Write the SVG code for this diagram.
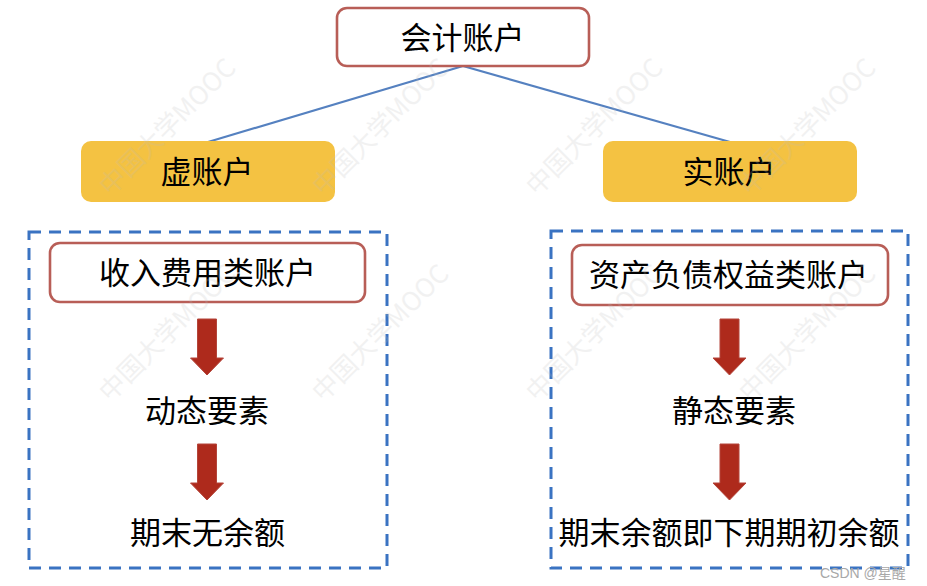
<svg xmlns="http://www.w3.org/2000/svg" width="927" height="586" viewBox="0 0 927 586">
<defs>
<style>
.t{font-family:"Microsoft YaHei","Noto Sans CJK SC","Noto Sans",sans-serif;font-size:31px;fill:#000;text-anchor:middle}
.rb{fill:#fff;stroke:#B85E57;stroke-width:2.6}
.yb{fill:#F4C242;stroke:none}
.db{fill:none;stroke:#3A73C2;stroke-width:3;stroke-dasharray:12 8}
.ln{stroke:#5581C0;stroke-width:2.2;fill:none}
.ar{fill:#AE2A1C;stroke:#B4453A;stroke-width:1}
.wm{font-family:"Noto Sans CJK SC","Noto Sans",sans-serif;font-size:26px;fill:#bdbdbd;opacity:0.2}
</style>
<path id="arrowShape" d="M-9.5,0 H9.5 V39 H16.5 L0,56 L-16.5,39 H-9.5 Z"/>
</defs>
<rect width="927" height="586" fill="#fff"/>
<g id="connectors">
<line class="ln" x1="463" y1="66" x2="208" y2="142"/>
<line class="ln" x1="463" y1="66" x2="730" y2="142"/>
</g>
<g id="root">
<rect class="rb" x="337" y="8" width="252" height="58" rx="10"/>
<text class="t" x="462.5" y="49">会计账户</text>
</g>
<g id="virtual">
<rect class="yb" x="81" y="141" width="254" height="61" rx="10"/>
<text class="t" x="207" y="183">虚账户</text>
</g>
<g id="real">
<rect class="yb" x="603" y="141" width="254" height="61" rx="10"/>
<text class="t" x="729" y="183">实账户</text>
</g>
<g id="left-group">
<rect class="db" x="29" y="232" width="358" height="336"/>
</g>
<g id="right-group">
<rect class="db" x="551" y="231" width="357" height="337"/>
</g>
<g id="income">
<rect class="rb" x="50" y="243" width="315" height="59" rx="10"/>
<text class="t" x="207.5" y="284">收入费用类账户</text>
</g>
<g id="assets">
<rect class="rb" x="572" y="245" width="316" height="60" rx="10"/>
<text class="t" x="728.5" y="286">资产负债权益类账户</text>
</g>
<g id="arrows">
<use href="#arrowShape" class="ar" transform="translate(207,319)"/>
<use href="#arrowShape" class="ar" transform="translate(207,444)"/>
<use href="#arrowShape" class="ar" transform="translate(729.5,319)"/>
<use href="#arrowShape" class="ar" transform="translate(729.5,444)"/>
</g>
<g id="dynamic">
<text class="t" x="207" y="422">动态要素</text>
</g>
<g id="static">
<text class="t" x="734" y="422">静态要素</text>
</g>
<g id="no-balance">
<text class="t" x="207.5" y="544">期末无余额</text>
</g>
<g id="balance">
<text class="t" x="729" y="544">期末余额即下期期初余额</text>
</g>
<g id="watermarks">
<text class="wm" transform="translate(110,197) rotate(-45)">中国大学MOOC</text>
<text class="wm" transform="translate(323,197) rotate(-45)">中国大学MOOC</text>
<text class="wm" transform="translate(537,197) rotate(-45)">中国大学MOOC</text>
<text class="wm" transform="translate(750,197) rotate(-45)">中国大学MOOC</text>
<text class="wm" transform="translate(110,403) rotate(-45)">中国大学MOOC</text>
<text class="wm" transform="translate(323,403) rotate(-45)">中国大学MOOC</text>
<text class="wm" transform="translate(537,403) rotate(-45)">中国大学MOOC</text>
<text class="wm" transform="translate(750,403) rotate(-45)">中国大学MOOC</text>
</g>
<text x="820" y="578" font-family="'Liberation Sans','Noto Sans CJK SC',sans-serif" font-size="14" fill="#a8a8a8">CSDN @星醒</text>
</svg>
